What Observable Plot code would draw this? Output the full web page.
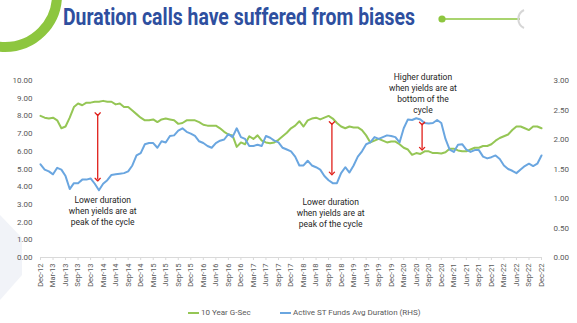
<!DOCTYPE html>
<html>
<head>
<meta charset="utf-8">
<script src="https://cdn.jsdelivr.net/npm/d3@7"></script>
<script src="https://cdn.jsdelivr.net/npm/@observablehq/plot@0.6"></script>
<style>
  html, body { margin: 0; padding: 0; background: #fff; }
  body { width: 577px; height: 323px; overflow: hidden; position: relative; font-family: Roboto, "Noto Sans", sans-serif; }
  #deco { position: absolute; left: 0; top: 0; }
  #title { position: absolute; left: 63px; top: 3px; font-family: Roboto; font-weight: 700; font-size: 24px; line-height: 28px; color: #2e4f9f; white-space: nowrap; transform-origin: 0 0; }
  #chart { position: absolute; left: 0; top: 50px; }
  #legend { position: absolute; left: 0; top: 307px; width: 577px; height: 12px; font-size: 8px; color: #595959; }
  .sw { position: absolute; top: 5px; width: 11px; height: 2px; }
  .lt { position: absolute; top: 0; line-height: 12px; white-space: nowrap; }
</style>
</head>
<body>
<svg id="deco" width="577" height="323">
  <circle cx="5" cy="-5" r="52" fill="none" stroke="#8dc63f" stroke-width="10"/>
  <polygon points="0,215 22,238 22,275 0,300" fill="#f1f3f8"/>
  <line x1="442" y1="19" x2="520" y2="19" stroke="#8dc63f" stroke-width="1.5"/>
  <circle cx="442" cy="19" r="3.6" fill="#8dc63f"/>
  <path d="M524,10 A10,10 0 0 0 524,28" fill="none" stroke="#d6d6d6" stroke-width="2"/>
</svg>
<div id="title">Duration calls have suffered from biases</div>
<div id="chart"></div>
<div id="legend">
  <div class="sw" style="left:188px;background:#95c655"></div>
  <div class="lt" style="left:201px">10 Year G-Sec</div>
  <div class="sw" style="left:280px;background:#6aa6e0"></div>
  <div class="lt" style="left:293px">Active ST Funds Avg Duration (RHS)</div>
</div>
<script>
// Quarterly x-axis tick labels (every 3rd month, Dec-12 .. Dec-22)
const tickLabels = ["Dec-12","Mar-13","Jun-13","Sep-13","Dec-13","Mar-14","Jun-14","Sep-14","Dec-14",
  "Mar-15","Jun-15","Sep-15","Dec-15","Mar-16","Jun-16","Sep-16","Dec-16","Mar-17","Jun-17","Sep-17","Dec-17",
  "Mar-18","Jun-18","Sep-18","Dec-18","Mar-19","Jun-19","Sep-19","Dec-19","Mar-20","Jun-20","Sep-20","Dec-20",
  "Mar-21","Jun-21","Sep-21","Dec-21","Mar-22","Jun-22","Sep-22","Dec-22"];

// 10 Year G-Sec yield (%), monthly Dec-12 .. Dec-22 (LHS)
const gsec = [8.0,7.9,7.85,7.9,7.75,7.3,7.4,7.9,8.5,8.7,8.6,8.75,
  8.75,8.8,8.8,8.85,8.8,8.8,8.65,8.7,8.5,8.5,8.3,8.1,
  7.9,7.75,7.75,7.8,7.65,7.8,7.85,7.8,7.75,7.55,7.6,7.75,
  7.75,7.75,7.65,7.5,7.45,7.45,7.45,7.3,7.1,6.95,6.9,6.25,
  6.5,6.4,6.85,6.7,6.9,6.6,6.5,6.45,6.5,6.65,6.85,7.05,
  7.3,7.45,7.7,7.4,7.75,7.85,7.9,7.8,7.9,8.0,7.85,7.6,
  7.4,7.3,7.4,7.35,7.35,7.2,6.9,6.5,6.6,6.7,6.6,6.5,
  6.55,6.55,6.4,6.2,6.1,5.8,5.9,5.85,6.0,6.0,5.9,5.9,
  5.88,5.95,6.15,6.15,6.05,6.0,6.0,6.1,6.2,6.2,6.3,6.3,
  6.4,6.6,6.75,6.85,6.95,7.2,7.4,7.4,7.3,7.2,7.4,7.4,
  7.3];

// Active ST funds average duration (years), monthly Dec-12 .. Dec-22 (RHS)
const duration = [1.58,1.49,1.46,1.41,1.52,1.49,1.38,1.16,1.26,1.26,1.32,1.32,
  1.34,1.25,1.14,1.25,1.31,1.40,1.41,1.42,1.43,1.46,1.56,1.73,
  1.77,1.92,1.94,1.94,1.86,1.97,1.95,2.06,2.07,2.15,2.19,2.13,
  2.10,2.06,1.97,1.94,1.89,1.86,1.94,1.98,2.00,2.09,2.04,2.19,
  2.04,2.01,1.89,1.89,1.91,1.89,2.06,2.03,1.98,1.95,1.86,1.83,
  1.80,1.71,1.56,1.56,1.64,1.56,1.53,1.49,1.38,1.31,1.26,1.26,
  1.43,1.53,1.44,1.56,1.71,1.80,1.92,1.95,2.04,2.01,2.04,2.07,
  2.06,2.04,1.95,2.19,2.34,2.33,2.36,2.34,2.28,2.27,2.28,2.33,
  2.28,2.01,1.83,1.79,1.91,1.92,1.83,1.79,1.82,1.82,1.71,1.68,
  1.70,1.73,1.67,1.56,1.50,1.47,1.43,1.49,1.55,1.59,1.55,1.59,
  1.73];

const lhsTicks = [0,1,2,3,4,5,6,7,8,9,10];
const rhsTicks = [0,0.5,1,1.5,2,2.5,3];

// Annotation arrows (month index, LHS-from, LHS-to)
const arrowMonth = [13.7, 69.8, 91.4];
const arrowTop = [8.1, 7.6, 7.57];
const arrowBottom = [4.4, 4.75, 6.15];
// Annotation texts
const noteText = ["Lower duration\nwhen yields are at\npeak of the cycle",
  "Lower duration\nwhen yields are at\npeak of the cycle",
  "Higher duration\nwhen yields are at\nbottom of the\ncycle"];
const noteMonth = [14.9, 69.5, 91.6];
const noteY = [2.66, 2.54, 9.29];

// Fit the title to the reference width (condensed heading)
const titleEl = document.getElementById("title");
const tw = titleEl.getBoundingClientRect().width;
titleEl.style.transform = `scaleX(${352 / tw})`;

const scaleR = 10 / 3; // RHS -> LHS
const idx = d3.range(gsec.length);
const tickIdx = d3.range(tickLabels.length).map(k => k * 3);
const arrows = d3.range(arrowMonth.length);
const notes = d3.range(noteText.length);

const chart = Plot.plot({
  width: 577,
  height: 245,
  marginLeft: 40,
  marginRight: 36,
  marginTop: 30,
  marginBottom: 38,
  style: { fontFamily: "Roboto", fontSize: "7.5px", color: "#595959", background: "transparent" },
  x: { domain: [0, 120] },
  y: { domain: [0, 10] },
  marks: [
    Plot.ruleY([0], { stroke: "#d9d9d9" }),
    Plot.axisX(tickIdx, { tickFormat: i => tickLabels[i / 3], tickRotate: -90, tickSize: 3, tickPadding: 3, stroke: "#d9d9d9", fill: "#595959", label: null }),
    Plot.axisY(lhsTicks, { tickSize: 0, tickPadding: 8, tickFormat: d => d.toFixed(2), label: null, fontSize: 8 }),
    Plot.text(rhsTicks, { y: d => d * scaleR, text: d => d.toFixed(2), frameAnchor: "right", dx: 12, textAnchor: "start", fill: "#595959", fontSize: 8 }),
    Plot.line(idx, { x: i => i, y: i => gsec[i], stroke: "#95c655", strokeWidth: 2, curve: "linear" }),
    Plot.line(idx, { x: i => i, y: i => duration[i] * scaleR, stroke: "#6aa6e0", strokeWidth: 2, curve: "linear" }),
    Plot.link(arrows, { x1: i => arrowMonth[i], x2: i => arrowMonth[i], y1: i => arrowTop[i], y2: i => arrowBottom[i], stroke: "#e0201b", strokeWidth: 1.3, marker: "arrow" }),
    Plot.text(notes, { x: i => noteMonth[i], y: i => noteY[i], text: i => noteText[i], fill: "#262626", fontSize: 8.5, lineHeight: 1.3, textAnchor: "middle", lineAnchor: "middle" })
  ]
});
document.getElementById("chart").appendChild(chart);
</script>
</body>
</html>
